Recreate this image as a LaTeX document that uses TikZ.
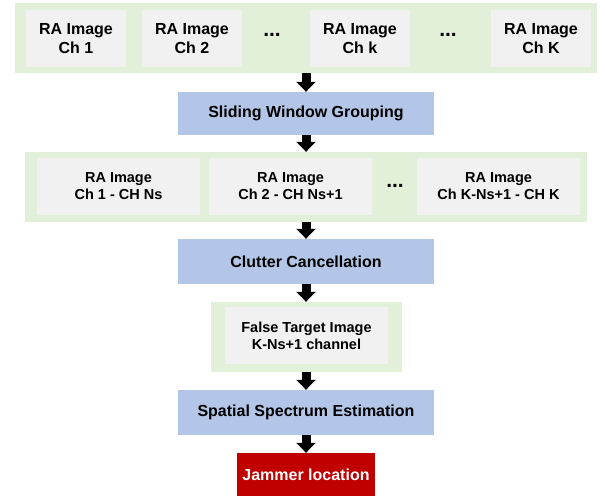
\documentclass[tikz,border=0pt]{standalone}
\usepackage{fontspec}
\setmainfont{Liberation Sans}
\usetikzlibrary{arrows.meta}
\definecolor{bandgreen}{HTML}{E2EFD9}
\definecolor{boxgray}{HTML}{F1F1F1}
\definecolor{stepblue}{HTML}{B4C6E7}
\definecolor{jamred}{HTML}{C00000}
\tikzset{
  band/.style={fill=bandgreen, draw=none, inner sep=0pt},
  chbox/.style={fill=boxgray, draw=none, inner sep=0pt, align=center,
    font=\fontsize{16}{19}\selectfont\bfseries, minimum height=57pt, minimum width=100pt},
  grpbox/.style={fill=boxgray, draw=none, inner sep=0pt, align=center,
    font=\fontsize{14.5}{17}\selectfont\bfseries, minimum height=57pt, minimum width=163pt},
  procbox/.style={fill=stepblue, draw=none, inner sep=0pt, align=center,
    font=\fontsize{16}{19}\selectfont\bfseries, minimum width=256pt},
  dotsnode/.style={inner sep=0pt, font=\fontsize{21}{24}\selectfont\bfseries},
  blockarrow/.style={draw=black, line width=9pt,
    -{Triangle[width=19pt,length=10pt]}},
}
\begin{document}
\begin{tikzpicture}[x=1pt,y=-1pt]
\useasboundingbox (0,0) rectangle (605,496);
% top band
\node[band, minimum width=582pt, minimum height=70pt] (band1) at (306,38) {};
\node[chbox] (c1) at (76,38.5) {RA Image\\Ch 1};
\node[chbox] (c2) at (192,38.5) {RA Image\\Ch 2};
\node[dotsnode] (d1) at (272,35) {...};
\node[chbox] (ck) at (360,38.5) {RA Image\\Ch k};
\node[dotsnode] (d2) at (448,35) {...};
\node[chbox] (cK) at (541,38.5) {RA Image\\Ch K};
% sliding window
\node[procbox, minimum height=43pt] (slide) at (306,113.5) {Sliding Window Grouping};
% second band
\node[band, minimum width=562pt, minimum height=70pt] (band2) at (306,187) {};
\node[grpbox] (g1) at (118.5,186.5) {RA Image\\Ch 1 - CH Ns};
\node[grpbox] (g2) at (290.5,186.5) {RA Image\\Ch 2 - CH Ns+1};
\node[dotsnode] (d3) at (395,186) {...};
\node[grpbox] (g3) at (498.5,186.5) {RA Image\\Ch K-Ns+1 - CH K};
% clutter cancellation
\node[procbox, minimum height=45pt] (clutter) at (306,261.5) {Clutter Cancellation};
% false target
\node[band, minimum width=191pt, minimum height=70pt] (band3) at (306,337) {};
\node[grpbox] (ft) at (306.5,335.5) {False Target Image\\K-Ns+1 channel};
% spatial spectrum
\node[procbox, minimum height=45pt] (spatial) at (306,412.5) {Spatial Spectrum Estimation};
% jammer
\node[fill=jamred, inner sep=0pt, minimum width=138pt, minimum height=43pt,
  text=white, font=\fontsize{16}{19}\selectfont\bfseries] (jam) at (306,474.5) {Jammer location};
% arrows
\draw[blockarrow] (band1.south) -- (slide.north);
\draw[blockarrow] (slide.south) -- (band2.north);
\draw[blockarrow] (band2.south) -- (clutter.north);
\draw[blockarrow] (clutter.south) -- (band3.north);
\draw[blockarrow] (band3.south) -- (spatial.north);
\draw[blockarrow] (spatial.south) -- (jam.north);
\end{tikzpicture}
\end{document}
